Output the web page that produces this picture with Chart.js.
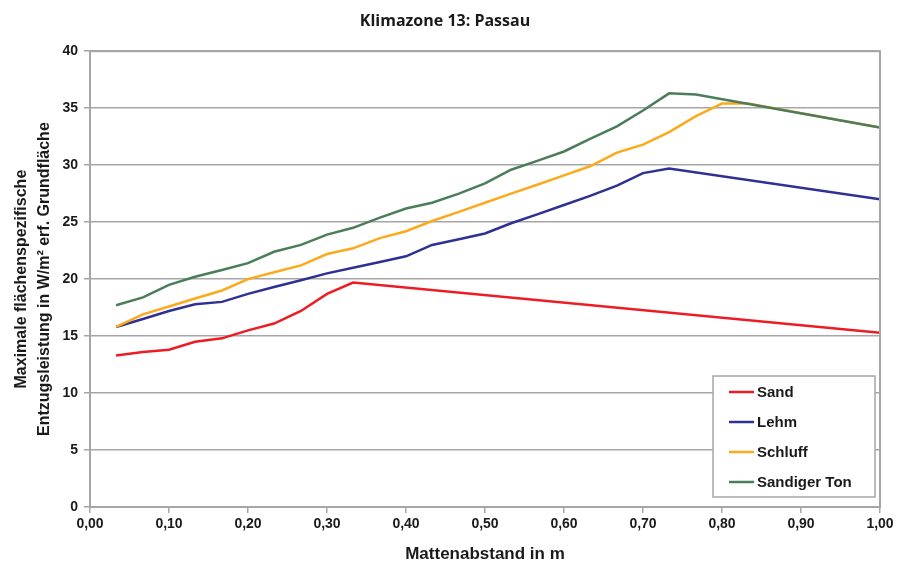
<!DOCTYPE html>
<html>
<head>
<meta charset="utf-8">
<script src="https://cdn.jsdelivr.net/npm/chart.js@4.4.0/dist/chart.umd.min.js"></script>
<style>
  html, body { margin: 0; padding: 0; background: #fff; }
  #wrap { width: 900px; height: 575px; }
</style>
</head>
<body>
<div id="wrap"><canvas id="lineChart"></canvas></div>
<script>
var sandX = [0.033, 0.067, 0.1, 0.133, 0.167, 0.2, 0.233, 0.267, 0.3, 0.333, 1.0]
var sandY = [13.3, 13.6, 13.8, 14.5, 14.8, 15.5, 16.1, 17.2, 18.7, 19.7, 15.3]

var lehmX = [0.033, 0.067, 0.1, 0.133, 0.167, 0.2, 0.233, 0.267, 0.3, 0.333, 0.367, 0.4, 0.433, 0.467, 0.5, 0.533, 0.567, 0.6, 0.633, 0.667, 0.7, 0.733, 1.0]
var lehmY = [15.8, 16.5, 17.2, 17.8, 18.0, 18.7, 19.3, 19.9, 20.5, 21.0, 21.5, 22.0, 23.0, 23.5, 24.0, 24.9, 25.7, 26.5, 27.3, 28.2, 29.3, 29.7, 27.0]

var schluffX = [0.033, 0.067, 0.1, 0.133, 0.167, 0.2, 0.233, 0.267, 0.3, 0.333, 0.367, 0.4, 0.433, 0.467, 0.5, 0.533, 0.567, 0.6, 0.633, 0.667, 0.7, 0.733, 0.767, 0.8, 0.833, 1.0]
var schluffY = [15.8, 16.9, 17.6, 18.3, 19.0, 20.0, 20.6, 21.2, 22.2, 22.7, 23.6, 24.2, 25.1, 25.9, 26.7, 27.5, 28.3, 29.1, 29.9, 31.1, 31.8, 32.9, 34.3, 35.4, 35.4, 33.3]

var tonX = [0.033, 0.067, 0.1, 0.133, 0.167, 0.2, 0.233, 0.267, 0.3, 0.333, 0.367, 0.4, 0.433, 0.467, 0.5, 0.533, 0.567, 0.6, 0.633, 0.667, 0.7, 0.733, 0.767, 1.0]
var tonY = [17.7, 18.4, 19.5, 20.2, 20.8, 21.4, 22.4, 23.0, 23.9, 24.5, 25.4, 26.2, 26.7, 27.5, 28.4, 29.6, 30.4, 31.2, 32.3, 33.4, 34.8, 36.3, 36.2, 33.3]

var seriesNames = ['Sand', 'Lehm', 'Schluff', 'Sandiger Ton']

function toPoints(xs, ys) {
  return xs.map(function (x, i) { return { x: x, y: ys[i] } })
}

var gray = '#a6a6a6'
var narrow = "'Liberation Sans Narrow', 'Arial Narrow', 'Liberation Sans', Arial, sans-serif"
var arial = "'Liberation Sans', Arial, sans-serif"

// Rahmen um die Zeichenfläche
var frame = {
  id: 'frame',
  afterDraw: function (chart) {
    var a = chart.chartArea, ctx = chart.ctx
    ctx.save()
    ctx.strokeStyle = gray
    ctx.lineWidth = 2
    ctx.strokeRect(a.left, a.top, a.right - a.left, a.bottom - a.top)
    ctx.restore()
  }
}

// Legende im Diagramm unten rechts
var boxLegend = {
  id: 'boxLegend',
  afterDraw: function (chart) {
    var a = chart.chartArea, ctx = chart.ctx
    var w = 162, h = 121
    var x = a.right - 5 - w, y = a.bottom - 10 - h
    ctx.save()
    ctx.fillStyle = '#fff'
    ctx.fillRect(x, y, w, h)
    ctx.strokeStyle = gray
    ctx.lineWidth = 1.5
    ctx.strokeRect(x, y, w, h)
    ctx.font = 'bold 15px ' + arial
    ctx.textBaseline = 'middle'
    chart.data.datasets.forEach(function (ds, i) {
      var cy = y + 16 + i * 30
      ctx.strokeStyle = ds.borderColor
      ctx.lineWidth = 2.5
      ctx.beginPath()
      ctx.moveTo(x + 16, cy)
      ctx.lineTo(x + 41, cy)
      ctx.stroke()
      ctx.fillStyle = '#1a1a1a'
      ctx.fillText(ds.label, x + 44, cy + 1)
    })
    ctx.restore()
  }
}

var ctx = document.getElementById('lineChart').getContext('2d')
var myLine = new Chart(ctx, {
  type: 'line',
  data: {
    datasets: [
      { label: seriesNames[0], data: toPoints(sandX, sandY), borderColor: '#ed1c24', order: 4 },
      { label: seriesNames[1], data: toPoints(lehmX, lehmY), borderColor: '#2e3192', order: 3 },
      { label: seriesNames[2], data: toPoints(schluffX, schluffY), borderColor: '#fbaa1d', order: 2 },
      { label: seriesNames[3], data: toPoints(tonX, tonY), borderColor: '#4b7d5b', order: 1 }
    ]
  },
  options: {
    responsive: true,
    maintainAspectRatio: false,
    animation: false,
    elements: {
      line: { borderWidth: 2.5, tension: 0, fill: false },
      point: { radius: 0, hoverRadius: 0 }
    },
    layout: { padding: { left: 10, right: 20, top: 0, bottom: 0 } },
    plugins: {
      legend: { display: false },
      tooltip: { enabled: false },
      title: {
        display: true,
        text: 'Klimazone 13: Passau',
        color: '#1a1a1a',
        font: { family: "'Open Sans', sans-serif", size: 16, weight: '700' },
        padding: { top: 12, bottom: 20 }
      }
    },
    scales: {
      x: {
        type: 'linear',
        min: 0,
        max: 1,
        border: { color: gray, width: 2 },
        grid: { drawOnChartArea: false, drawTicks: true, tickLength: 6, color: gray, lineWidth: 1.5 },
        ticks: {
          stepSize: 0.1,
          color: '#1a1a1a',
          padding: 3,
          maxRotation: 0,
          font: { family: narrow, size: 14, weight: 'bold' },
          callback: function (v) { return v.toFixed(2).replace('.', ',') }
        },
        title: {
          display: true,
          text: 'Mattenabstand in m',
          color: '#1a1a1a',
          font: { family: arial, size: 17, weight: 'bold' },
          padding: { top: 12, bottom: 10 }
        },
        afterFit: function (scale) { scale.height = 68 }
      },
      y: {
        min: 0,
        max: 40,
        border: { color: gray, width: 2 },
        grid: { color: gray, lineWidth: 1.5, drawTicks: true, tickLength: 6 },
        ticks: {
          stepSize: 5,
          color: '#1a1a1a',
          padding: 6,
          font: { family: narrow, size: 14, weight: 'bold' }
        },
        title: {
          display: true,
          text: ['Maximale flächenspezifische', 'Entzugsleistung in W/m² erf. Grundfläche'],
          color: '#1a1a1a',
          font: { family: arial, size: 16, weight: 'bold', lineHeight: 1.45 },
          padding: { top: 0, bottom: 6 }
        },
        afterFit: function (scale) { scale.width = 80 }
      }
    }
  },
  plugins: [frame, boxLegend]
})
</script>
</body>
</html>
